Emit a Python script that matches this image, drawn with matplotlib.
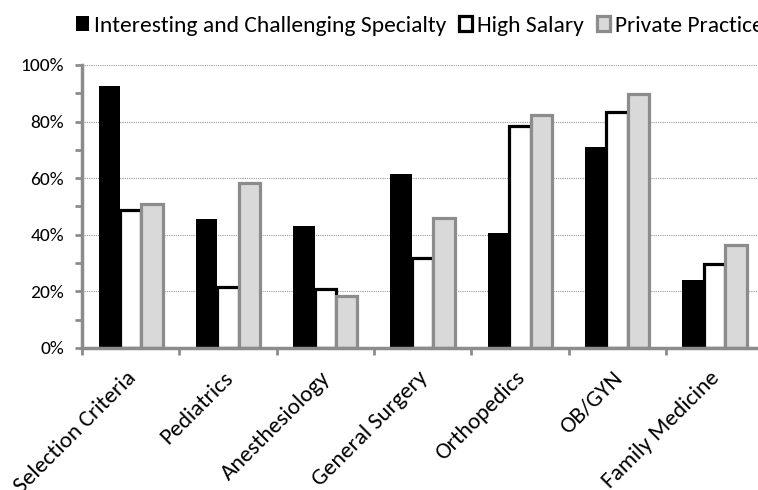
import matplotlib
matplotlib.use("Agg")
import matplotlib.pyplot as plt
from matplotlib import font_manager
from matplotlib.patches import Patch
from matplotlib.transforms import ScaledTranslation
from matplotlib.ticker import MultipleLocator, PercentFormatter
import numpy as np

categories = ["Selection Criteria", "Pediatrics", "Anesthesiology", "General Surgery",
              "Orthopedics", "OB/GYN", "Family Medicine"]
interesting = [92.7, 45.6, 43.2, 61.5, 40.6, 70.9, 24.2]
high_salary = [48.8, 21.7, 20.8, 31.8, 78.5, 83.5, 29.8]
private_practice = [51.0, 58.3, 18.5, 46.0, 82.3, 89.9, 36.4]
series_names = ["Interesting and Challenging Specialty", "High Salary", "Private Practice"]

names = {f.name for f in font_manager.fontManager.ttflist}
if "Carlito" in names:
    fam, scale = "Carlito", 1.0
else:
    fam, scale = "Lato", 0.85
plt.rcParams['font.family'] = [fam, 'DejaVu Sans']

fs_leg = 16.9 * scale
fs_x = 16.8 * scale
fs_y = 14 * scale

fig = plt.figure(figsize=(7.58, 4.90), dpi=100)
ax = fig.add_axes([82/758, 1-348/490, 1-82/758, (348-65)/490])

x = np.arange(len(categories))
w = 0.22
spine_c = "#8c8c8c"

ax.bar(x, high_salary, w, color="white", edgecolor="black", linewidth=2.3, zorder=2)
ax.bar(x - w, interesting, w, color="black", edgecolor="none", zorder=3)
ax.bar(x + w, private_practice, w, color="#d9d9d9", edgecolor=spine_c, linewidth=2.3, zorder=3)

ax.set_ylim(0, 100)
ax.set_xlim(-0.5, 6.447)
ax.yaxis.set_major_locator(MultipleLocator(20))
ax.yaxis.set_minor_locator(MultipleLocator(10))
ax.yaxis.set_major_formatter(PercentFormatter(decimals=0))
ax.yaxis.grid(True, which="major", color="#999999", linestyle=(0, (1, 1)), linewidth=0.8, zorder=0)
ax.set_axisbelow(True)

ax.set_xticks(x - 0.5, minor=False)
ax.set_xticklabels([])
ax.set_xticks(x, minor=True)
ax.set_xticklabels(categories, minor=True, rotation=45, ha="right", rotation_mode="anchor", fontsize=fs_x)
ax.tick_params(axis="x", which="minor", length=0, pad=14)
ax.tick_params(axis="x", which="major", length=5, width=2, color=spine_c, direction="out")
ax.tick_params(axis="y", which="both", length=5, width=2, color=spine_c, direction="out", labelsize=fs_y, pad=8)
shift = ScaledTranslation(-5/100, 0, fig.dpi_scale_trans)
for lab in ax.get_xticklabels(minor=True):
    lab.set_transform(lab.get_transform() + shift)

for s in ["top", "right"]:
    ax.spines[s].set_visible(False)
for s in ["left", "bottom"]:
    ax.spines[s].set_color(spine_c)
    ax.spines[s].set_linewidth(2.5)
    ax.spines[s].set_zorder(5)

handles = [Patch(facecolor="black", edgecolor="black", linewidth=0),
           Patch(facecolor="white", edgecolor="black", linewidth=2.3),
           Patch(facecolor="#d9d9d9", edgecolor=spine_c, linewidth=2.3)]
fig.legend(handles, series_names, loc="upper left", bbox_to_anchor=(76/758, 1-16/490),
           ncol=3, frameon=False, fontsize=fs_leg, handlelength=0.55, handleheight=0.6,
           handletextpad=0.22, columnspacing=0.55, borderaxespad=0, borderpad=0)

fig.savefig("out.png", dpi=100)
